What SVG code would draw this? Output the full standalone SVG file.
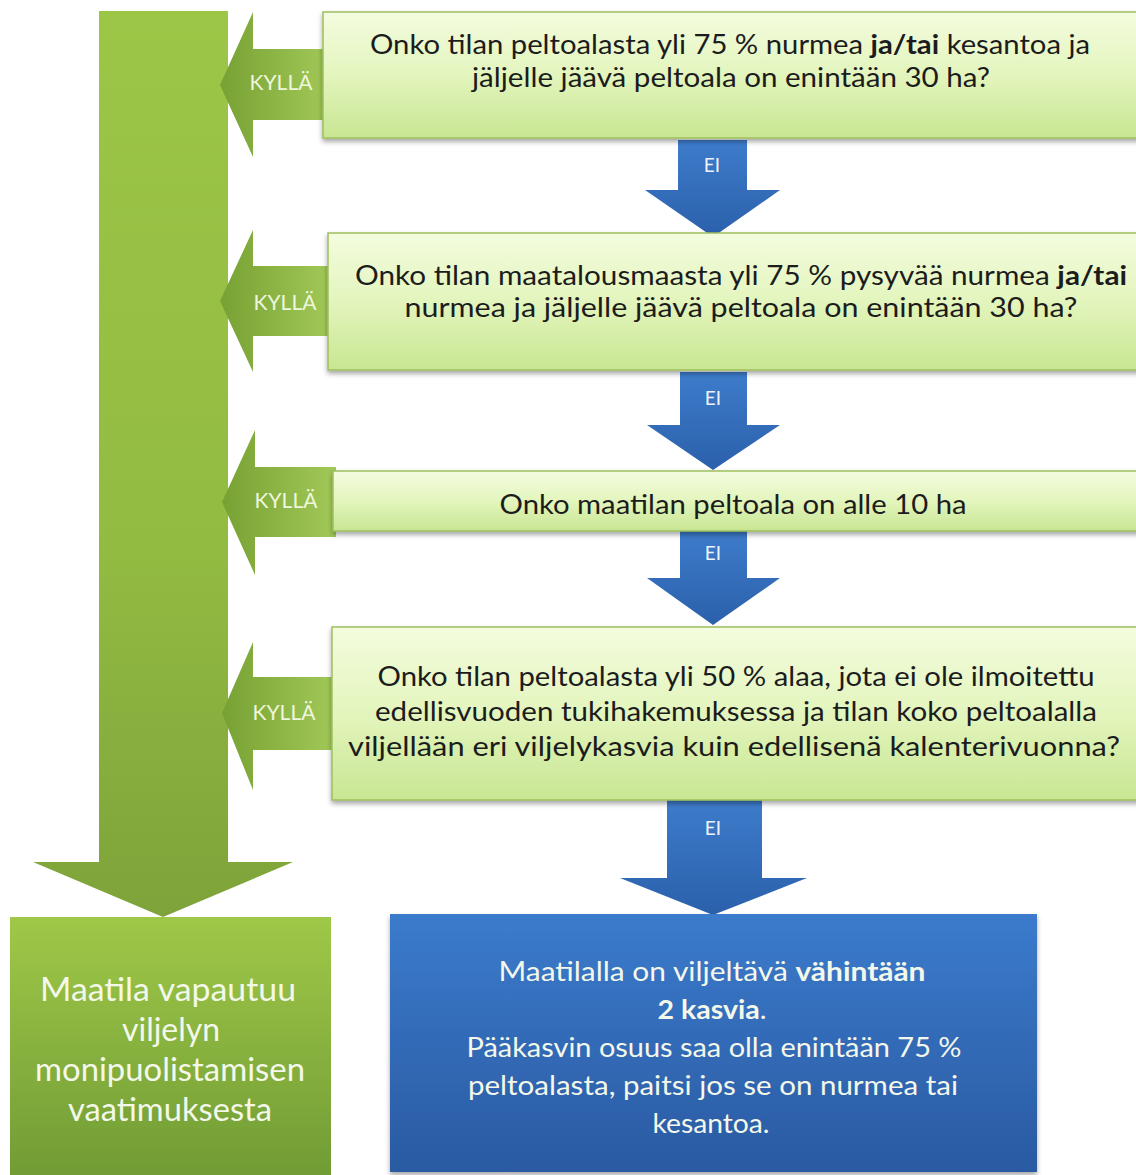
<svg xmlns="http://www.w3.org/2000/svg" width="1136" height="1175" viewBox="0 0 1136 1175">
<defs>
<linearGradient id="gBox" x1="0" y1="0" x2="0" y2="1">
<stop offset="0" stop-color="#f4fcdf"/><stop offset="0.5" stop-color="#e3f5bd"/><stop offset="1" stop-color="#c8e692"/>
</linearGradient>
<linearGradient id="gBig" x1="0" y1="0" x2="0" y2="1">
<stop offset="0" stop-color="#9cc646"/><stop offset="0.6" stop-color="#92bb42"/><stop offset="1" stop-color="#7ea33a"/>
</linearGradient>
<linearGradient id="gLeft" x1="0" y1="0" x2="0" y2="1">
<stop offset="0" stop-color="#9fc848"/><stop offset="1" stop-color="#6f9a34"/>
</linearGradient>
<linearGradient id="gKy" x1="0" y1="0" x2="1" y2="0">
<stop offset="0" stop-color="#77a133"/><stop offset="1" stop-color="#a2c958"/>
</linearGradient>
<linearGradient id="gEi" x1="0" y1="0" x2="0" y2="1">
<stop offset="0" stop-color="#3d7ccb"/><stop offset="1" stop-color="#2b60ab"/>
</linearGradient>
<linearGradient id="gBlue" x1="0" y1="0" x2="0" y2="1">
<stop offset="0" stop-color="#3b7bcc"/><stop offset="1" stop-color="#2a5aa2"/>
</linearGradient>
<filter id="sh" x="-5%" y="-10%" width="110%" height="130%">
<feDropShadow dx="0" dy="3" stdDeviation="2.5" flood-color="#000" flood-opacity="0.35"/>
</filter>
</defs>
<style>
.q{fill:url(#gBox);stroke:#9dbf5e;stroke-width:1.5;filter:url(#sh)}
.t{font-family:Lato,"Open Sans","Liberation Sans",sans-serif;font-size:26px;fill:#1c1c1c;text-anchor:middle}
.b{font-weight:bold}
.ky{fill:url(#gKy)}
.kyt{font-family:Lato,"Liberation Sans",sans-serif;font-size:21px;fill:#eef6dc;text-anchor:middle}
.ei{fill:url(#gEi)}
.eit{font-family:Lato,"Liberation Sans",sans-serif;font-size:19px;fill:#eef3fb;text-anchor:middle}
.w{font-family:Lato,"Open Sans","Liberation Sans",sans-serif;fill:#f4f8ea;text-anchor:middle}
</style>
<g id="connectors">
<path id="big-arrow" d="M99 11 H228 V862 H293 L163 917 L33 862 H99 Z" fill="url(#gBig)"/>
<path d="M220 85 L253 12 V49 H330 V120 H253 V157 Z" class="ky"/>
<path d="M220 301 L253 230 V266 H332 V336 H253 V372 Z" class="ky"/>
<path d="M222 502 L255 430 V467 H336 V537 H255 V575 Z" class="ky"/>
<path d="M222 713 L253 642 V677 H336 V750 H253 V790 Z" class="ky"/>
<text class="kyt" x="281" y="90">KYLLÄ</text>
<text class="kyt" x="285" y="310">KYLLÄ</text>
<text class="kyt" x="286" y="508">KYLLÄ</text>
<text class="kyt" x="284" y="720">KYLLÄ</text>
<path d="M678 140 H747 V190 H780 L713 237 L645 190 H678 Z" class="ei"/>
<path d="M680 372 H747 V425 H780 L713 470 L647 425 H680 Z" class="ei"/>
<path d="M680 531 H747 V578 H780 L713 625 L647 578 H680 Z" class="ei"/>
<path d="M667 800 H762 V878 H807 L713 915 L620 878 H667 Z" class="ei"/>
<text class="eit" x="712" y="172">EI</text>
<text class="eit" x="713" y="405">EI</text>
<text class="eit" x="713" y="560">EI</text>
<text class="eit" x="713" y="835">EI</text>
</g>
<g id="q1">
<rect class="q" x="323" y="12" width="830" height="126"/>
<text class="t" x="730" y="54" textLength="720" lengthAdjust="spacingAndGlyphs">Onko tilan peltoalasta yli 75 % nurmea <tspan class="b">ja/tai</tspan> kesantoa ja</text>
<text class="t" x="731" y="87" textLength="518" lengthAdjust="spacingAndGlyphs">jäljelle jäävä peltoala on enintään 30 ha?</text>
</g>
<g id="q2">
<rect class="q" x="328" y="233" width="830" height="137"/>
<text class="t" x="741" y="285" textLength="772" lengthAdjust="spacingAndGlyphs">Onko tilan maatalousmaasta yli 75 % pysyvää nurmea <tspan class="b">ja/tai</tspan></text>
<text class="t" x="741" y="317" textLength="673" lengthAdjust="spacingAndGlyphs">nurmea ja jäljelle jäävä peltoala on enintään 30 ha?</text>
</g>
<g id="q3">
<rect class="q" x="333" y="471" width="830" height="60"/>
<text class="t" x="733" y="514" textLength="467" lengthAdjust="spacingAndGlyphs">Onko maatilan peltoala on alle 10 ha</text>
</g>
<g id="q4">
<rect class="q" x="332" y="627" width="830" height="173"/>
<text class="t" x="736" y="686" textLength="717" lengthAdjust="spacingAndGlyphs">Onko tilan peltoalasta yli 50 % alaa, jota ei ole ilmoitettu</text>
<text class="t" x="736" y="721" textLength="722" lengthAdjust="spacingAndGlyphs">edellisvuoden tukihakemuksessa ja tilan koko peltoalalla</text>
<text class="t" x="734" y="756" textLength="772" lengthAdjust="spacingAndGlyphs">viljellään eri viljelykasvia kuin edellisenä kalenterivuonna?</text>
</g>
<g id="exempt">
<rect x="10" y="917" width="321" height="270" fill="url(#gLeft)"/>
<text class="w" font-size="32" x="168" y="1001" textLength="256" lengthAdjust="spacingAndGlyphs">Maatila vapautuu</text>
<text class="w" font-size="32" x="171" y="1041" textLength="98" lengthAdjust="spacingAndGlyphs">viljelyn</text>
<text class="w" font-size="32" x="170" y="1081" textLength="270" lengthAdjust="spacingAndGlyphs">monipuolistamisen</text>
<text class="w" font-size="32" x="170" y="1121" textLength="204" lengthAdjust="spacingAndGlyphs">vaatimuksesta</text>
</g>
<g id="result">
<rect x="390" y="914" width="647" height="258" fill="url(#gBlue)" filter="url(#sh)"/>
<text class="w" font-size="27" x="712" y="981" textLength="427" lengthAdjust="spacingAndGlyphs">Maatilalla on viljeltävä <tspan class="b">vähintään</tspan></text>
<text class="w" font-size="27" x="712" y="1019" textLength="109" lengthAdjust="spacingAndGlyphs"><tspan class="b">2 kasvia</tspan>.</text>
<text class="w" font-size="27" x="714" y="1057" textLength="495" lengthAdjust="spacingAndGlyphs">Pääkasvin osuus saa olla enintään 75 %</text>
<text class="w" font-size="27" x="713" y="1095" textLength="490" lengthAdjust="spacingAndGlyphs">peltoalasta, paitsi jos se on nurmea tai</text>
<text class="w" font-size="27" x="711" y="1133" textLength="117" lengthAdjust="spacingAndGlyphs">kesantoa.</text>
</g>
</svg>
